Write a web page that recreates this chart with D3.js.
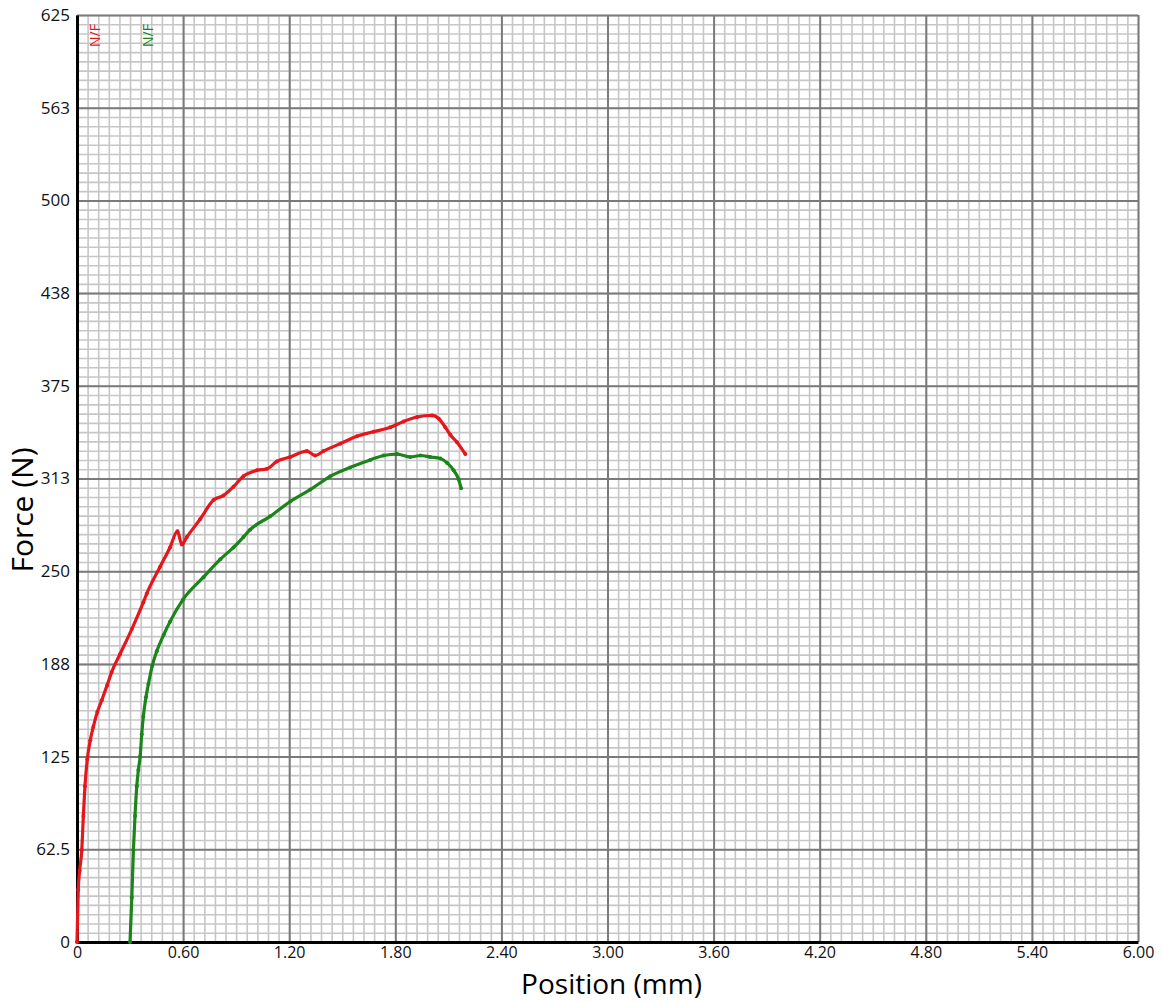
<html>
<head>
    <title>Force vs Position</title>
    <style>
        body { margin: 0; background: #fff; }
        #chart { width: 1162px; height: 1002px; }
        text { font-family: "Open Sans", "Noto Sans", sans-serif; }
    </style>
</head>
<body>
<div id="chart"></div>
</body>
<script src="https://d3js.org/d3.v7.min.js"></script>
<script>

  const width = 1162;
  const height = 1002;
  const margin = {top: 15, right: 24, bottom: 60, left: 77};

  // tick labels as shown on the chart
  const xTicks = [0, 0.6, 1.2, 1.8, 2.4, 3.0, 3.6, 4.2, 4.8, 5.4, 6.0];
  const xTickLabels = ['0', '0.60', '1.20', '1.80', '2.40', '3.00', '3.60', '4.20', '4.80', '5.40', '6.00'];
  const yTicks = [0, 62.5, 125, 187.5, 250, 312.5, 375, 437.5, 500, 562.5, 625];
  const yTickLabels = ['0', '62.5', '125', '188', '250', '313', '375', '438', '500', '563', '625'];

  // series (position mm, force N)
  const redX = [0, 0.007, 0.015, 0.027, 0.036, 0.045, 0.058, 0.075, 0.092, 0.115, 0.14, 0.17, 0.196, 0.243, 0.31, 0.375, 0.395, 0.47, 0.526, 0.568, 0.593, 0.621, 0.696, 0.772, 0.828, 0.885, 0.941, 1.017, 1.074, 1.13, 1.206, 1.30, 1.347, 1.394, 1.489, 1.583, 1.677, 1.772, 1.847, 1.923, 2.008, 2.045, 2.083, 2.111, 2.149, 2.196];
  const redY = [0, 35, 48, 62, 85, 105, 123, 136, 145, 155, 163, 173, 182, 194, 211, 229, 235, 253, 266, 277, 268, 273, 285, 298, 301, 307, 314, 318, 319, 324, 327, 331, 328, 331, 336, 341, 344, 347, 351, 354, 355, 353, 347, 342, 337, 329];

  const greenX = [0.30, 0.31, 0.319, 0.328, 0.338, 0.347, 0.357, 0.366, 0.375, 0.39, 0.404, 0.425, 0.451, 0.49, 0.526, 0.60, 0.715, 0.81, 0.885, 0.941, 0.979, 1.092, 1.206, 1.319, 1.432, 1.545, 1.658, 1.734, 1.81, 1.885, 1.942, 1.998, 2.055, 2.093, 2.13, 2.158, 2.172];
  const greenY = [0, 30, 62, 85, 105, 116, 125, 140, 152, 165, 174, 186, 196, 207, 216, 231, 246, 258, 266, 273, 278, 287, 297, 305, 314, 320, 325, 328, 329, 327, 328, 327, 326, 323, 318, 312, 306];

  const seriesNames = ['N/F', 'N/F'];
  const seriesColors = ['#e5161c', '#1b841b'];
  const labelX = [0.1, 0.4];

  const series = [
    redX.map((x, i) => ({x, y: redY[i]})),
    greenX.map((x, i) => ({x, y: greenY[i]}))
  ];

  const svg = d3.select('#chart')
    .append('svg')
    .attr('width', width)
    .attr('height', height)

  const w = width - margin.left - margin.right;
  const h = height - margin.top - margin.bottom;

  const g = svg.append('g').attr('transform', `translate(${margin.left},${margin.top})`)

  const xScale = d3.scaleLinear().domain([0, 6]).range([0, w])
  const yScale = d3.scaleLinear().domain([0, 625]).range([h, 0])

  // minor grid: ten divisions per major
  const xMinor = d3.range(0, 101).map(i => i * 0.06)
  const yMinor = d3.range(0, 101).map(i => i * 6.25)

  g.append('g')
    .attr('transform', `translate(0, ${h})`)
    .call(d3.axisBottom(xScale).tickValues(xMinor).tickSize(-h).tickFormat(''))
    .call(s => s.select('.domain').remove())
    .call(s => s.selectAll('line').attr('stroke', '#c6c6c6').attr('stroke-width', 1.6))

  g.append('g')
    .call(d3.axisLeft(yScale).tickValues(yMinor).tickSize(-w).tickFormat(''))
    .call(s => s.select('.domain').remove())
    .call(s => s.selectAll('line').attr('stroke', '#c6c6c6').attr('stroke-width', 1.6))

  // major grid
  g.append('g')
    .attr('transform', `translate(0, ${h})`)
    .call(d3.axisBottom(xScale).tickValues(xTicks).tickSize(-h).tickFormat(''))
    .call(s => s.select('.domain').remove())
    .call(s => s.selectAll('line').attr('stroke', '#7a7a7a').attr('stroke-width', 2))

  g.append('g')
    .call(d3.axisLeft(yScale).tickValues(yTicks).tickSize(-w).tickFormat(''))
    .call(s => s.select('.domain').remove())
    .call(s => s.selectAll('line').attr('stroke', '#7a7a7a').attr('stroke-width', 2))

  // x axis labels
  const xAxis = g.append('g')
    .attr('transform', `translate(0, ${h})`)
    .call(d3.axisBottom(xScale).tickValues(xTicks).tickSize(0).tickPadding(5)
      .tickFormat((d, i) => xTickLabels[i]))
  xAxis.select('.domain').attr('stroke', '#000').attr('stroke-width', 3)
  xAxis.selectAll('text').attr('font-size', 16).attr('fill', '#111')
    .attr('font-family', '"Open Sans", sans-serif')

  // y axis labels
  const yAxis = g.append('g')
    .call(d3.axisLeft(yScale).tickValues(yTicks).tickSize(0).tickPadding(7)
      .tickFormat((d, i) => yTickLabels[i]))
  yAxis.select('.domain').attr('stroke', '#000').attr('stroke-width', 3)
  yAxis.selectAll('text').attr('font-size', 17).attr('fill', '#111')
    .attr('font-family', '"Open Sans", sans-serif')

  // curves
  const line = d3.line().curve(d3.curveMonotoneX).x(d => xScale(d.x)).y(d => yScale(d.y))

  series.forEach((data, k) => {
    g.append('path')
      .datum(data)
      .attr('fill', 'none')
      .attr('stroke', seriesColors[k])
      .attr('stroke-width', 3.2)
      .attr('stroke-linejoin', 'round')
      .attr('stroke-linecap', 'round')
      .attr('d', line)

    g.selectAll(null)
      .data(data)
      .join('circle')
      .attr('cx', d => xScale(d.x))
      .attr('cy', d => yScale(d.y))
      .attr('r', 2)
      .attr('fill', seriesColors[k])

    g.append('text')
      .attr('transform', `translate(${xScale(labelX[k]) + 5}, 32) rotate(-90)`)
      .attr('text-anchor', 'start')
      .attr('font-size', 14)
      .attr('fill', seriesColors[k])
      .text(seriesNames[k])
  })

  // axis titles
  svg.append('text')
    .attr('x', margin.left + w / 2 + 4)
    .attr('y', 993.5)
    .attr('text-anchor', 'middle')
    .attr('font-size', 28)
    .attr('fill', '#000')
    .text('Position (mm)')

  svg.append('text')
    .attr('transform', `translate(33, 510) rotate(-90)`)
    .attr('text-anchor', 'middle')
    .attr('font-size', 30)
    .attr('fill', '#000')
    .text('Force (N)')

</script>
</html>
